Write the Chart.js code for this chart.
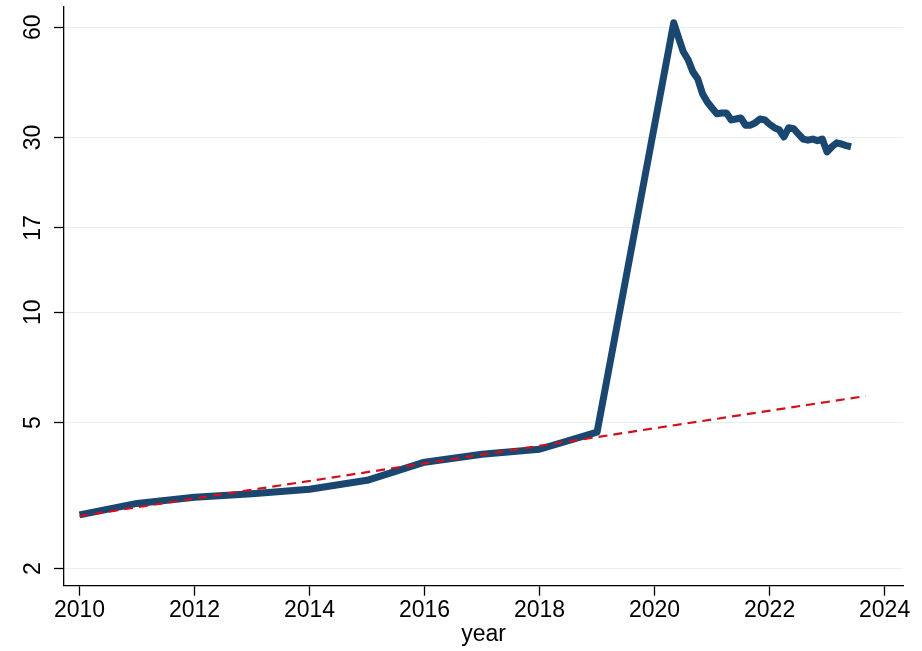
<!DOCTYPE html>
<html>
<head>
<meta charset="utf-8">
<script src="https://cdn.jsdelivr.net/npm/chart.js@4/dist/chart.umd.min.js"></script>
<style>
  html, body { margin: 0; padding: 0; background: #ffffff; }
  #wrap { width: 922px; height: 651px; }
</style>
</head>
<body>
<div id="wrap"><canvas id="c" width="922" height="651"></canvas></div>
<script>
// ---- data ----
const annualYears  = [2010, 2011, 2012, 2013, 2014, 2015, 2016, 2017, 2018, 2019];
const annualValues = [2.80, 3.01, 3.13, 3.20, 3.29, 3.48, 3.90, 4.10, 4.23, 4.71];

// monthly series: 2020m5 .. 2023m6
const monthlyStart = { year: 2020, month: 5 };
const monthlyValues = [
  61.7, 56.2, 51.4, 48.9, 45.3, 43.4, 39.5, 37.5,            // 2020 m5-m12
  36.1, 34.8, 35.0, 35.0, 33.5, 33.7, 33.9, 32.4, 32.4, 32.9, 33.7, 33.5, // 2021
  32.6, 31.9, 31.5, 30.1, 31.9, 31.7, 30.7, 29.7, 29.5, 29.7, 29.4, 29.7, // 2022
  27.4, 28.3, 29.0, 28.8, 28.5, 28.3                          // 2023 m1-m6
];

const trendYears  = [2010, 2023.67];
const trendValues = [2.78, 5.91];

const xTickValues = [2010, 2012, 2014, 2016, 2018, 2020, 2022, 2024];
const yTickValues = [2, 5, 10, 17, 30, 60];
const xTitle = 'year';

// ---- build datasets ----
const mainPoints = annualYears.map((y, i) => ({ x: y, y: annualValues[i] }));
monthlyValues.forEach((v, i) => {
  const m = monthlyStart.month - 1 + i;
  mainPoints.push({ x: monthlyStart.year + m / 12, y: v });
});
const trendPoints = trendYears.map((y, i) => ({ x: y, y: trendValues[i] }));

const FONT = "'Liberation Sans', Arial, 'DejaVu Sans', sans-serif";

new Chart(document.getElementById('c'), {
  type: 'line',
  data: {
    datasets: [
      {
        data: trendPoints,
        borderColor: '#d0101c',
        borderWidth: 2.2,
        borderDash: [9, 6],
        pointRadius: 0,
        fill: false,
        order: 0
      },
      {
        data: mainPoints,
        borderColor: '#1a476f',
        borderWidth: 7,
        borderJoinStyle: 'round',
        borderCapStyle: 'butt',
        pointRadius: 0,
        tension: 0,
        fill: false,
        order: 1
      }
    ]
  },
  options: {
    responsive: false,
    animation: false,
    layout: { padding: { top: 7, right: 19, bottom: 0, left: 0 } },
    plugins: { legend: { display: false }, tooltip: { enabled: false } },
    scales: {
      x: {
        type: 'linear',
        min: 2009.73,
        max: 2024.32,
        afterBuildTicks: (s) => { s.ticks = xTickValues.map(v => ({ value: v })); },
        afterFit: (s) => { s.height = 65.3; s.paddingLeft = 0; s.paddingRight = 0; },
        grid: { drawOnChartArea: false, drawTicks: true, tickLength: 10, tickColor: '#000', tickWidth: 1.3 },
        border: { display: true, color: '#000', width: 1.3 },
        ticks: {
          color: '#000',
          font: { family: FONT, size: 23 },
          padding: 1,
          maxRotation: 0,
          autoSkip: false,
          callback: (v) => String(v)
        },
        title: {
          display: true,
          text: xTitle,
          color: '#000',
          font: { family: FONT, size: 23 },
          padding: { top: 0, bottom: 3 }
        }
      },
      y: {
        type: 'logarithmic',
        min: 1.795,
        max: 68.1,
        afterBuildTicks: (s) => { s.ticks = yTickValues.map(v => ({ value: v })); },
        afterFit: (s) => { s.width = 64; s.paddingTop = 0; s.paddingBottom = 0; },
        grid: { drawOnChartArea: true, color: '#e6eff1', lineWidth: 1, drawTicks: true, tickLength: 10, tickColor: '#000', tickWidth: 1.3 },
        border: { display: true, color: '#000', width: 1.3 },
        ticks: {
          color: '#000',
          font: { family: FONT, size: 23 },
          padding: 8,
          minRotation: 90,
          maxRotation: 90,
          crossAlign: 'center',
          autoSkip: false,
          callback: (v) => String(v)
        }
      }
    }
  }
});
</script>
</body>
</html>
